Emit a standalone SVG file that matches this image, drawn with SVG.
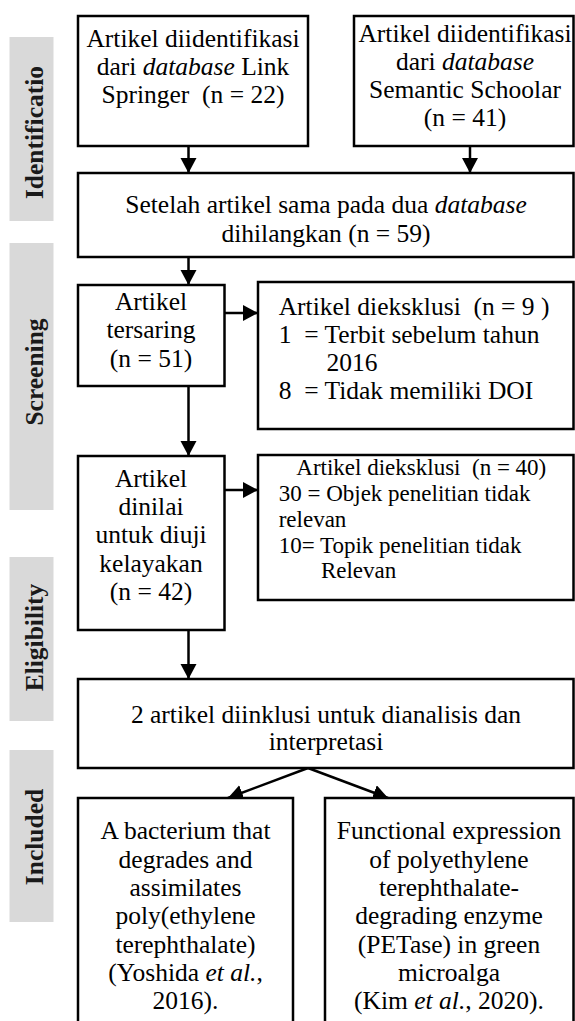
<svg xmlns="http://www.w3.org/2000/svg" width="575" height="1021" viewBox="0 0 575 1021">
<style>
.box{fill:#fff;stroke:#000;stroke-width:2.5}
.bar{fill:#d9d9d9}
.lbl{font-family:"Liberation Serif","Times New Roman",serif;font-weight:bold;font-size:25.5px;fill:#1a1a1a;text-anchor:middle}
.t{font-family:"Liberation Serif","Times New Roman",serif;font-size:25.5px;fill:#000}
.c{text-anchor:middle}
.s{font-size:23px}
.i{font-style:italic}
.con{stroke:#000;stroke-width:2.5;fill:none;marker-end:url(#ah)}
</style>
<defs>
<marker id="ah" markerUnits="userSpaceOnUse" markerWidth="16" markerHeight="17" refX="15" refY="8" orient="auto">
<path d="M0,0 L15,8 L0,16 z" fill="#000"/>
</marker>
</defs>
<g id="stages">
<rect class="bar" x="9.5" y="37" width="44" height="184"/>
<rect class="bar" x="9.5" y="243" width="44" height="267"/>
<rect class="bar" x="9.5" y="557" width="44" height="164"/>
<rect class="bar" x="9.5" y="750" width="44" height="172"/>
<text class="lbl" transform="translate(42.5,132.5) rotate(-90)">Identificatio</text>
<text class="lbl" transform="translate(42.5,372) rotate(-90)">Screening</text>
<text class="lbl" transform="translate(42.5,637.5) rotate(-90)">Eligibility</text>
<text class="lbl" transform="translate(42.5,837) rotate(-90)">Included</text>
</g>
<g id="connectors">
<line class="con" x1="188.5" y1="146" x2="188.5" y2="173"/>
<line class="con" x1="470" y1="146" x2="470" y2="173"/>
<line class="con" x1="188.5" y1="257" x2="188.5" y2="285"/>
<line class="con" x1="188.5" y1="386" x2="188.5" y2="456"/>
<line class="con" x1="188.5" y1="630" x2="188.5" y2="679"/>
<line class="con" x1="224.5" y1="313" x2="258" y2="313"/>
<line class="con" x1="224.5" y1="490" x2="258" y2="490"/>
<line class="con" x1="308" y1="768" x2="228" y2="798"/>
<line class="con" x1="308" y1="768" x2="388" y2="798"/>
</g>
<g id="n1">
<rect class="box" x="78" y="16" width="230" height="130"/>
<text class="t c" x="193" y="46.5">Artikel diidentifikasi</text>
<text class="t c" x="193" y="74.5">dari <tspan class="i">database</tspan> Link</text>
<text class="t c" x="193" y="102.5" xml:space="preserve">Springer  (n = 22)</text>
</g>
<g id="n2">
<rect class="box" x="354" y="16" width="219.5" height="130"/>
<text class="t c" x="465" y="42">Artikel diidentifikasi</text>
<text class="t c" x="465" y="70">dari <tspan class="i">database</tspan></text>
<text class="t c" x="465" y="98">Semantic Schoolar</text>
<text class="t c" x="465" y="126">(n = 41)</text>
</g>
<g id="n3">
<rect class="box" x="78" y="173" width="495.5" height="84"/>
<text class="t c" x="326" y="213">Setelah artikel sama pada dua <tspan class="i">database</tspan></text>
<text class="t c" x="326" y="241.5">dihilangkan (n = 59)</text>
</g>
<g id="n4">
<rect class="box" x="78" y="285" width="146.5" height="101"/>
<text class="t c" x="151" y="309.5">Artikel</text>
<text class="t c" x="151" y="338">tersaring</text>
<text class="t c" x="151" y="366.5">(n = 51)</text>
</g>
<g id="n5">
<rect class="box" x="258" y="282" width="315.5" height="147"/>
<text class="t" x="278.7" y="315" xml:space="preserve">Artikel dieksklusi  (n = 9 )</text>
<text class="t" x="278.7" y="343" xml:space="preserve">1  = Terbit sebelum tahun</text>
<text class="t" x="326.4" y="371">2016</text>
<text class="t" x="278.7" y="399" xml:space="preserve">8  = Tidak memiliki DOI</text>
</g>
<g id="n6">
<rect class="box" x="78" y="456" width="146.5" height="174"/>
<text class="t c" x="151" y="486.7">Artikel</text>
<text class="t c" x="151" y="515">dinilai</text>
<text class="t c" x="151" y="543.3">untuk diuji</text>
<text class="t c" x="151" y="571.7">kelayakan</text>
<text class="t c" x="151" y="600">(n = 42)</text>
</g>
<g id="n7">
<rect class="box" x="258" y="455" width="315.5" height="145"/>
<text class="t s" x="296.3" y="475" xml:space="preserve">Artikel dieksklusi  (n = 40)</text>
<text class="t s" x="278.7" y="501">30 = Objek penelitian tidak</text>
<text class="t s" x="278.7" y="526.5">relevan</text>
<text class="t s" x="278.7" y="552.5">10= Topik penelitian tidak</text>
<text class="t s" x="320.9" y="578">Relevan</text>
</g>
<g id="n8">
<rect class="box" x="78" y="679" width="495.5" height="89"/>
<text class="t c" x="326" y="722.7">2 artikel diinklusi untuk dianalisis dan</text>
<text class="t c" x="326" y="750">interpretasi</text>
</g>
<g id="n9">
<rect class="box" x="78" y="798" width="215" height="240"/>
<text class="t c" x="185.5" y="839.3">A bacterium that</text>
<text class="t c" x="185.5" y="867.7">degrades and</text>
<text class="t c" x="185.5" y="896">assimilates</text>
<text class="t c" x="185.5" y="924.3">poly(ethylene</text>
<text class="t c" x="185.5" y="952.7">terephthalate)</text>
<text class="t c" x="185.5" y="981">(Yoshida <tspan class="i">et al.</tspan>,</text>
<text class="t c" x="185.5" y="1009.3">2016).</text>
</g>
<g id="n10">
<rect class="box" x="325" y="798" width="248.5" height="240"/>
<text class="t c" x="449" y="839.3">Functional expression</text>
<text class="t c" x="449" y="867.7">of polyethylene</text>
<text class="t c" x="449" y="896">terephthalate-</text>
<text class="t c" x="449" y="924.3">degrading enzyme</text>
<text class="t c" x="449" y="952.7">(PETase) in green</text>
<text class="t c" x="449" y="981">microalga</text>
<text class="t c" x="449" y="1009.3">(Kim <tspan class="i">et al.</tspan>, 2020).</text>
</g>
</svg>
